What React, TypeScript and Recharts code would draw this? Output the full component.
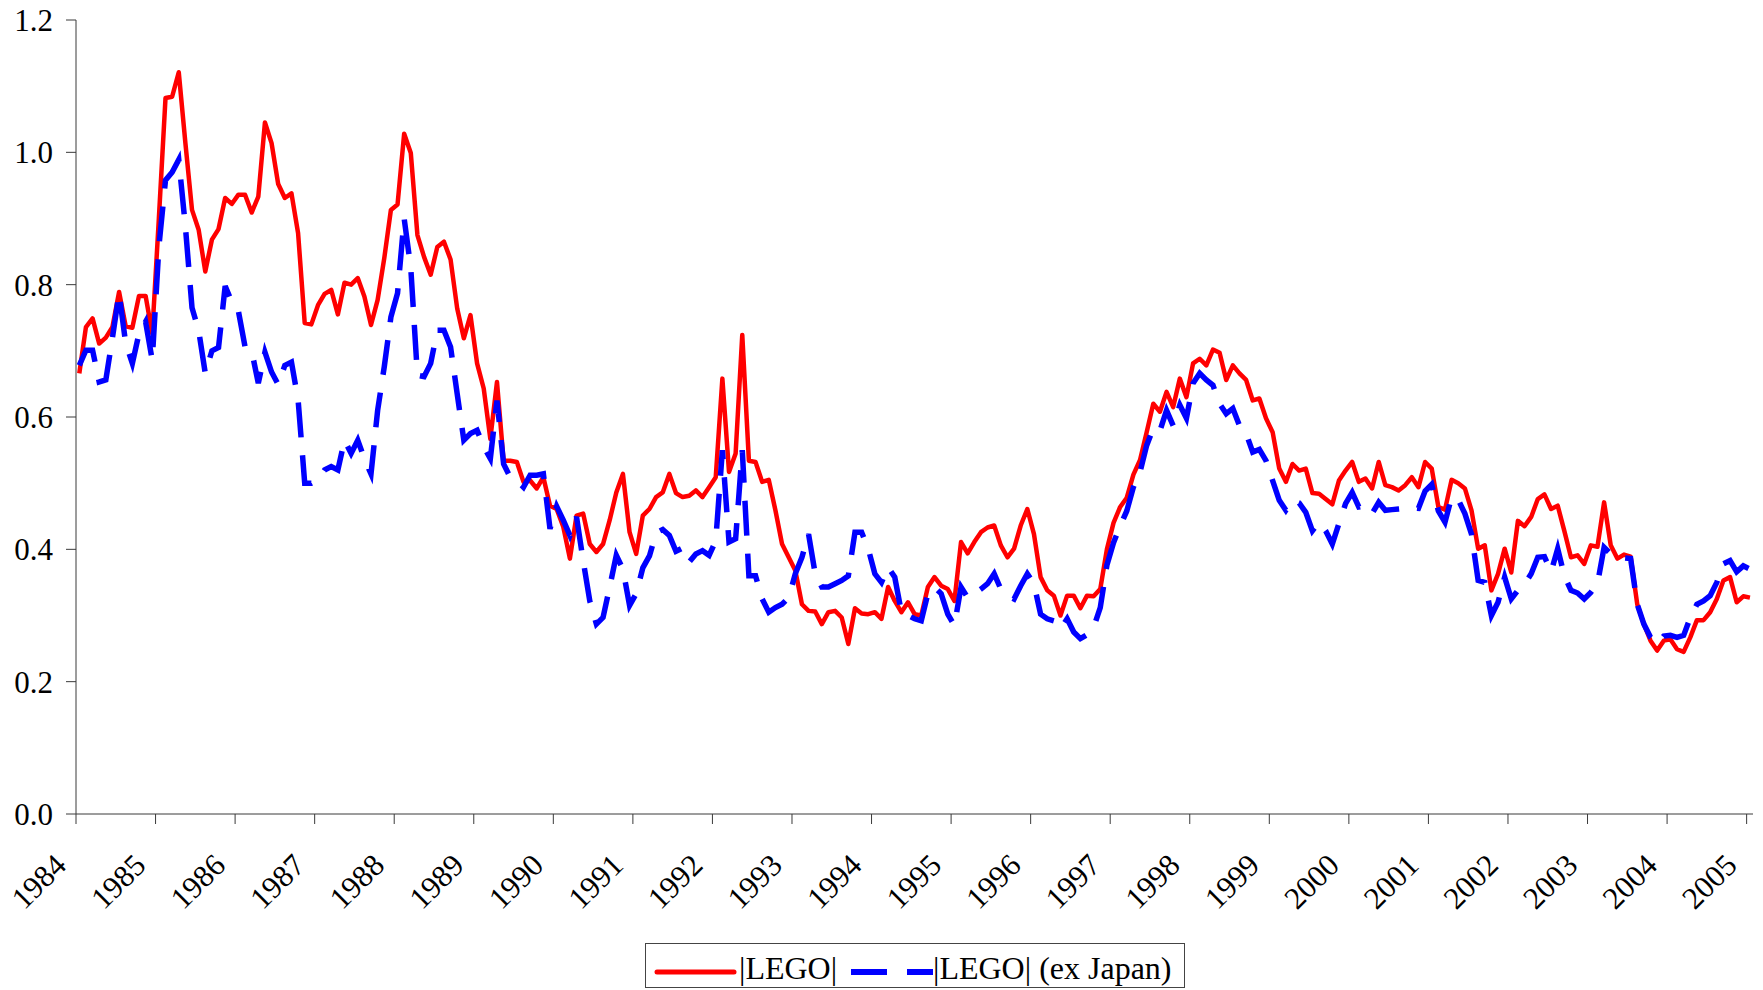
import React from 'react';
import { LineChart, Line, XAxis, YAxis } from 'recharts';

// monthly observations, Jan 1984 .. Jan 2005
const START_YEAR = 1984;

const lego = [
  0.666, 0.736, 0.749, 0.711, 0.72, 0.736, 0.789, 0.737, 0.735, 0.783, 0.783, 0.726,
  0.9, 1.082, 1.084, 1.121, 1.014, 0.913, 0.883, 0.82, 0.868, 0.884, 0.931, 0.922,
  0.936, 0.936, 0.909, 0.933, 1.045, 1.014, 0.952, 0.931, 0.938, 0.878, 0.742, 0.74,
  0.769, 0.786, 0.792, 0.755, 0.803, 0.8, 0.81, 0.782, 0.739, 0.777, 0.84, 0.913,
  0.921, 1.028, 0.999, 0.875, 0.842, 0.815, 0.857, 0.865, 0.838, 0.764, 0.719, 0.754,
  0.681, 0.643, 0.567, 0.653, 0.534, 0.534, 0.532, 0.502, 0.504, 0.492, 0.509, 0.466,
  0.461, 0.434, 0.386, 0.451, 0.454, 0.408, 0.396, 0.408, 0.444, 0.486, 0.514, 0.426,
  0.393, 0.451, 0.461, 0.479, 0.486, 0.514, 0.485, 0.479, 0.481, 0.489, 0.479, 0.494,
  0.509, 0.658, 0.517, 0.545, 0.724, 0.534, 0.532, 0.502, 0.505, 0.459, 0.408, 0.388,
  0.368, 0.317, 0.307, 0.306, 0.287, 0.305, 0.307, 0.297, 0.257, 0.311, 0.303, 0.302,
  0.305, 0.295, 0.343, 0.322, 0.305, 0.32, 0.302, 0.3, 0.343, 0.358, 0.345, 0.34,
  0.322, 0.411, 0.394, 0.411, 0.426, 0.433, 0.436, 0.406, 0.388, 0.401, 0.436, 0.461,
  0.423, 0.358, 0.338, 0.33, 0.3, 0.33, 0.33, 0.311, 0.33, 0.329, 0.34, 0.4,
  0.44, 0.464, 0.478, 0.513, 0.535, 0.577, 0.62, 0.608, 0.638, 0.615, 0.658, 0.63,
  0.681, 0.688, 0.678, 0.702, 0.697, 0.656, 0.678, 0.666, 0.656, 0.625, 0.628, 0.598,
  0.577, 0.522, 0.502, 0.529, 0.519, 0.522, 0.485, 0.484, 0.476, 0.468, 0.504, 0.519,
  0.532, 0.502, 0.507, 0.492, 0.532, 0.497, 0.494, 0.489, 0.497, 0.509, 0.494, 0.532,
  0.522, 0.464, 0.46, 0.505, 0.5, 0.492, 0.459, 0.401, 0.406, 0.338, 0.363, 0.401,
  0.365, 0.443, 0.435, 0.449, 0.476, 0.483, 0.461, 0.466, 0.428, 0.388, 0.391, 0.378,
  0.406, 0.404, 0.471, 0.406, 0.386, 0.392, 0.389, 0.317, 0.287, 0.262, 0.247, 0.262,
  0.264, 0.249, 0.245, 0.267, 0.293, 0.293, 0.305, 0.325, 0.353, 0.358, 0.32, 0.329,
  0.327,
];

const legoExJapan = [
  0.678, 0.701, 0.701, 0.653, 0.656, 0.72, 0.787, 0.711, 0.681, 0.726, 0.744, 0.686,
  0.857, 0.958, 0.97, 0.989, 0.888, 0.765, 0.731, 0.666, 0.7, 0.705, 0.798, 0.774,
  0.76, 0.706, 0.7, 0.651, 0.698, 0.668, 0.649, 0.678, 0.683, 0.626, 0.5, 0.5,
  0.505, 0.52, 0.525, 0.52, 0.565, 0.545, 0.565, 0.537, 0.514, 0.61, 0.676, 0.751,
  0.787, 0.9, 0.825, 0.663, 0.661, 0.681, 0.731, 0.731, 0.706, 0.635, 0.565, 0.575,
  0.58, 0.555, 0.537, 0.625, 0.529, 0.509, 0.504, 0.494, 0.512, 0.512, 0.514, 0.431,
  0.465, 0.444, 0.421, 0.449, 0.383, 0.322, 0.287, 0.297, 0.343, 0.391, 0.37, 0.315,
  0.333, 0.372, 0.39, 0.425, 0.43, 0.421, 0.397, 0.402, 0.381, 0.393, 0.398, 0.391,
  0.413, 0.55, 0.411, 0.416, 0.55, 0.36, 0.36, 0.325, 0.305, 0.312, 0.317, 0.327,
  0.363, 0.388, 0.423, 0.363, 0.343, 0.343, 0.348, 0.353, 0.36, 0.426, 0.426, 0.401,
  0.363, 0.35, 0.373, 0.358, 0.305, 0.3, 0.295, 0.292, 0.333, 0.343, 0.333, 0.302,
  0.285, 0.343, 0.327, 0.333, 0.34, 0.348, 0.363, 0.34, 0.33, 0.325, 0.345, 0.363,
  0.348, 0.302, 0.295, 0.292, 0.28, 0.295, 0.275, 0.265, 0.271, 0.282, 0.312, 0.376,
  0.41, 0.435, 0.458, 0.494, 0.517, 0.557, 0.583, 0.579, 0.61, 0.587, 0.618, 0.598,
  0.651, 0.666, 0.656, 0.648, 0.62, 0.605, 0.613, 0.587, 0.575, 0.547, 0.551, 0.534,
  0.504, 0.474, 0.459, 0.474, 0.47, 0.456, 0.428, 0.441, 0.428, 0.408, 0.439, 0.469,
  0.486, 0.464, 0.466, 0.454, 0.471, 0.459, 0.46, 0.461, 0.462, 0.463, 0.462, 0.488,
  0.498, 0.458, 0.441, 0.479, 0.475, 0.454, 0.423, 0.353, 0.35, 0.3, 0.32, 0.358,
  0.325, 0.338, 0.347, 0.363, 0.388, 0.389, 0.366, 0.401, 0.36, 0.338, 0.334, 0.325,
  0.335, 0.348, 0.403, 0.393, 0.388, 0.387, 0.386, 0.317, 0.287, 0.267, 0.257, 0.269,
  0.27, 0.267, 0.27, 0.297, 0.317, 0.322, 0.33, 0.35, 0.378, 0.383, 0.366, 0.375,
  0.37,
];

const yearTicks = [
  1984, 1985, 1986, 1987, 1988, 1989, 1990, 1991, 1992, 1993, 1994,
  1995, 1996, 1997, 1998, 1999, 2000, 2001, 2002, 2003, 2004, 2005,
];
const valueTicks = [0, 0.2, 0.4, 0.6, 0.8, 1.0, 1.2];

const seriesNames = ['|LEGO|', '|LEGO| (ex Japan)'];

// each observation sits mid-month
const data = lego.map((v, i) => ({
  t: START_YEAR + (i + 0.5) / 12,
  lego: v,
  exJapan: legoExJapan[i],
}));

const FONT = '"Liberation Serif", "Times New Roman", serif';
const AXIS = '#3a3a3a';
const TICK_FONT = 31;

function YearTick(props: any) {
  const { x, y, payload } = props;
  const tx = x - 8;
  const ty = y + 43;
  return (
    <text
      x={tx}
      y={ty}
      transform={`rotate(-45, ${tx}, ${ty})`}
      textAnchor="end"
      fontFamily={FONT}
      fontSize={TICK_FONT}
      fill="#000"
    >
      {payload.value}
    </text>
  );
}

function ChartLegend() {
  return (
    <div
      style={{
        position: 'absolute',
        left: 645,
        top: 943,
        width: 540,
        height: 45,
        border: '1px solid #444',
        boxSizing: 'border-box',
        background: '#fff',
        fontFamily: FONT,
        fontSize: 32,
        color: '#000',
      }}
    >
      <svg width={540} height={45} style={{ position: 'absolute', left: 0, top: 0 }}>
        <line x1={11} x2={88} y1={28} y2={28} stroke="#ff0000" strokeWidth={5} strokeLinecap="round" />
        <line x1={205} x2={287} y1={28} y2={28} stroke="#0000ff" strokeWidth={6} strokeDasharray="36 20" />
      </svg>
      <span style={{ position: 'absolute', left: 93, top: 5, lineHeight: '38px' }}>{seriesNames[0]}</span>
      <span style={{ position: 'absolute', left: 287, top: 5, lineHeight: '38px' }}>{seriesNames[1]}</span>
    </div>
  );
}

export default function App() {
  return (
    <div style={{ position: 'absolute', left: 0, top: 0, width: 1763, height: 990, background: '#fff' }}>
      <LineChart
        width={1763}
        height={990}
        data={data}
        margin={{ top: 20, right: 10, bottom: 0, left: 0 }}
      >
        <XAxis
          dataKey="t"
          type="number"
          domain={[1984, 2005.08]}
          ticks={yearTicks}
          interval={0}
          height={176}
          tickSize={10}
          tickMargin={0}
          stroke={AXIS}
          tick={<YearTick />}
          allowDataOverflow
        />
        <YAxis
          type="number"
          domain={[0, 1.2]}
          ticks={valueTicks}
          interval={0}
          width={76}
          tickSize={10}
          tickMargin={13}
          stroke={AXIS}
          tickFormatter={(v: number) => v.toFixed(1)}
          tick={{ fontFamily: FONT, fontSize: TICK_FONT, fill: '#000' }}
        />
        <Line
          type="linear"
          dataKey="lego"
          name={seriesNames[0]}
          stroke="#ff0000"
          strokeWidth={4.5}
          strokeLinejoin="round"
          dot={false}
          isAnimationActive={false}
        />
        <Line
          type="linear"
          dataKey="exJapan"
          name={seriesNames[1]}
          stroke="#0000ff"
          strokeWidth={5.5}
          strokeDasharray="35 18"
          dot={false}
          isAnimationActive={false}
        />
      </LineChart>
      <ChartLegend />
    </div>
  );
}
